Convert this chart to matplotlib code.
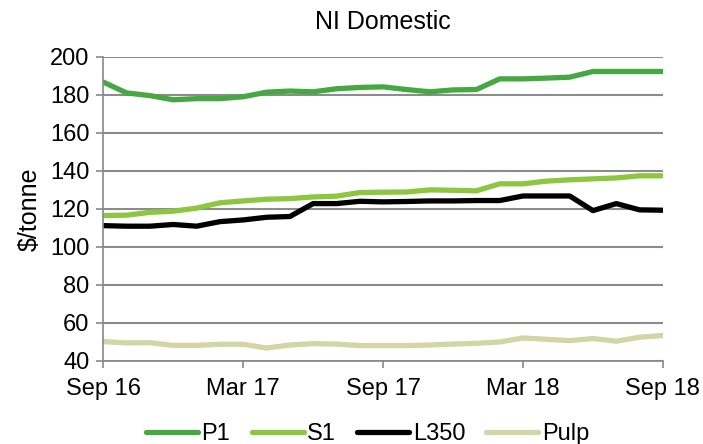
import numpy as np
import matplotlib.pyplot as plt

plt.rcParams['font.family'] = ['Liberation Sans', 'DejaVu Sans']

# monthly prices Sep 2016 - Sep 2018
months = np.arange(25)
tick_pos = [0, 6, 12, 18, 24]
tick_labels = ['Sep 16', 'Mar 17', 'Sep 17', 'Mar 18', 'Sep 18']

p1 = [186.7, 181.0, 179.6, 177.4, 178.0, 178.0, 179.0, 181.4, 182.0, 181.6, 183.2, 183.9, 184.2,
      182.8, 181.6, 182.6, 182.8, 188.4, 188.4, 188.8, 189.3, 192.3, 192.3, 192.3, 192.3]
s1 = [116.5, 116.7, 118.2, 118.8, 120.4, 123.2, 124.2, 125.1, 125.4, 126.3, 126.7, 128.6, 128.8,
      128.9, 130.0, 129.8, 129.5, 133.2, 133.2, 134.6, 135.3, 135.8, 136.3, 137.4, 137.4]
l350 = [111.2, 110.9, 110.9, 111.8, 110.9, 113.3, 114.2, 115.6, 116.0, 122.8, 122.8, 124.0, 123.7,
        123.9, 124.2, 124.2, 124.4, 124.4, 126.8, 126.8, 126.8, 119.1, 122.8, 119.5, 119.3]
pulp = [50.2, 49.5, 49.6, 48.2, 48.2, 48.8, 48.8, 46.8, 48.4, 49.1, 48.9, 48.1, 48.1,
        48.1, 48.4, 48.9, 49.3, 50.0, 52.1, 51.4, 50.7, 51.8, 50.4, 52.5, 53.4]

series = [('P1', p1, '#45A843'), ('S1', s1, '#8DC63F'),
          ('L350', l350, '#000000'), ('Pulp', pulp, '#D3D5A5')]

fig = plt.figure(figsize=(7.03, 4.44), dpi=100)
ax = fig.add_axes([0.147, 0.187, 0.796, 0.685])

for name, vals, col in series:
    ax.plot(months, vals, color=col, lw=3.8, label=name, solid_capstyle='round')

ax.set_xlim(0, 24)
ax.set_ylim(40, 200)
ax.set_yticks(np.arange(40, 201, 20))
ax.set_xticks(tick_pos)
ax.set_xticklabels(tick_labels)
ax.tick_params(labelsize=17, colors='#888888', labelcolor='black', length=5, width=1.2)
ax.tick_params(axis='x', pad=7)
ax.tick_params(axis='y', pad=5)

ax.grid(axis='y', color='#8C8C8C', lw=1.5)
ax.set_axisbelow(True)
for s in ['top', 'right']:
    ax.spines[s].set_visible(False)
for s in ['left', 'bottom']:
    ax.spines[s].set_color('#888888')
    ax.spines[s].set_linewidth(1.2)

ax.set_ylabel('$/tonne', fontsize=18, labelpad=6)
ax.set_title('NI Domestic', fontsize=18, pad=20)

fig.legend(loc='lower center', ncol=4, frameon=False, fontsize=17,
           bbox_to_anchor=(0.523, -0.05), handlelength=2.2, columnspacing=0.9,
           handletextpad=0.15)

fig.savefig('out.png', dpi=100)
